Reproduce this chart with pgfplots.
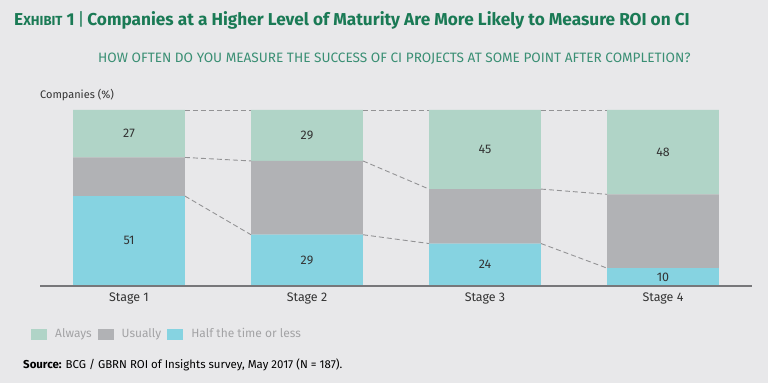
\documentclass[border=0pt]{standalone}
\usepackage{pgfplots}
\pgfplotsset{compat=1.18}
\usepackage{fontspec}
\setmainfont{Fira Sans}
\definecolor{bg}{HTML}{E8E8EA}
\definecolor{alw}{HTML}{B0D4C7}
\definecolor{usu}{HTML}{B1B2B5}
\definecolor{half}{HTML}{86D3E1}
\definecolor{tgreen}{HTML}{1A7A55}
\definecolor{sgreen}{HTML}{3A8F74}
\definecolor{dtxt}{HTML}{333333}
\definecolor{ltxt}{HTML}{A3A3A5}
\definecolor{dashc}{HTML}{939395}
\definecolor{axc}{HTML}{77777A}
\begin{document}
\begin{tikzpicture}[x=1bp,y=1bp]
\fill[bg] (0,0) rectangle (768,383);
\node[anchor=base west, inner sep=0, text=tgreen, font=\bfseries] at (14,357.5)
  {{\fontsize{17.3}{20}\selectfont E}{\fontsize{13.2}{15}\selectfont XHIBIT}{\fontsize{17.3}{20}\selectfont\ 1\,{\mdseries|}\,Companies at a Higher Level of Maturity Are More Likely to Measure ROI on CI}};
\node[anchor=base west, inner sep=0, text=sgreen, font=\fontsize{13.65}{15}\selectfont] at (98,320.7)
  {HOW OFTEN DO YOU MEASURE THE SUCCESS OF CI PROJECTS AT SOME POINT AFTER COMPLETION?};
\node[anchor=base west, inner sep=0, text=dtxt, font=\fontsize{11}{13}\selectfont] at (40,285)
  {Companies (\%)};
\node[anchor=base west, inner sep=0, text=black, font=\fontsize{11.5}{13}\selectfont] at (23,15)
  {\textbf{Source:} BCG / GBRN ROI of Insights survey, May 2017 (N = 187).};
\begin{axis}[
  at={(40bp,97.3bp)}, anchor=south west,
  scale only axis, width=712bp, height=175.7bp,
  xmin=-0.5, xmax=3.5, ymin=0, ymax=100,
  axis x line=bottom, axis y line=none,
  x axis line style={draw=axc, line width=1.8bp, -},
  axis on top,
  xtick={0,1,2,3}, xticklabels={Stage 1,Stage 2,Stage 3,Stage 4},
  major tick length=0pt,
  xticklabel style={font=\fontsize{12.5}{14}\selectfont, text=dtxt, yshift=-4bp},
  ybar stacked, bar width=0.629,
  reverse legend,
  legend columns=-1,
  legend style={at={(-0.0126,-0.275)}, anchor=west, draw=none, fill=none,
    font=\fontsize{12}{14}\selectfont, text=ltxt, inner sep=0pt,
    nodes={inner sep=0pt},
    /tikz/every even column/.append style={column sep=6bp},
    /tikz/every odd column/.append style={column sep=8bp}},
  legend image code/.code={\fill[#1] (0bp,-5.5bp) rectangle (16bp,5.5bp);},
]
\addplot[fill=half, draw=none] coordinates {(0,51)(1,29)(2,24)(3,10)};
\addplot[fill=usu, draw=none] coordinates {(0,22)(1,42)(2,31)(3,42)};
\addplot[fill=alw, draw=none] coordinates {(0,27)(1,29)(2,45)(3,48)};
\legend{Half the time or less,Usually,Always}
\end{axis}
\begin{axis}[
  at={(40bp,97.3bp)}, anchor=south west,
  scale only axis, width=712bp, height=175.7bp,
  xmin=-0.5, xmax=3.5, ymin=0, ymax=100,
  hide axis, clip=false,
  dl/.style={draw=dashc, mark=none, line width=0.9bp, dash pattern=on 5bp off 3bp},
]
\addplot[dl] coordinates {(0.3145,100)(0.6855,100)};
\addplot[dl] coordinates {(0.3145,73)(0.6855,71)};
\addplot[dl] coordinates {(0.3145,51)(0.6855,29)};
\addplot[dl] coordinates {(1.3145,100)(1.6855,100)};
\addplot[dl] coordinates {(1.3145,71)(1.6855,55)};
\addplot[dl] coordinates {(1.3145,29)(1.6855,24)};
\addplot[dl] coordinates {(2.3145,100)(2.6855,100)};
\addplot[dl] coordinates {(2.3145,55)(2.6855,52)};
\addplot[dl] coordinates {(2.3145,24)(2.6855,10)};
\addplot[draw=none, mark=none, nodes near coords, point meta=explicit symbolic,
  nodes near coords style={anchor=center, font=\fontsize{12.5}{14}\selectfont, text=dtxt}]
  table[meta=l] {
x y l
0 25.5 51
0 86.5 27
1 14.5 29
1 85.5 29
2 12 24
2 77.5 45
3 5 10
3 76 48
};
\end{axis}
\end{tikzpicture}
\end{document}
